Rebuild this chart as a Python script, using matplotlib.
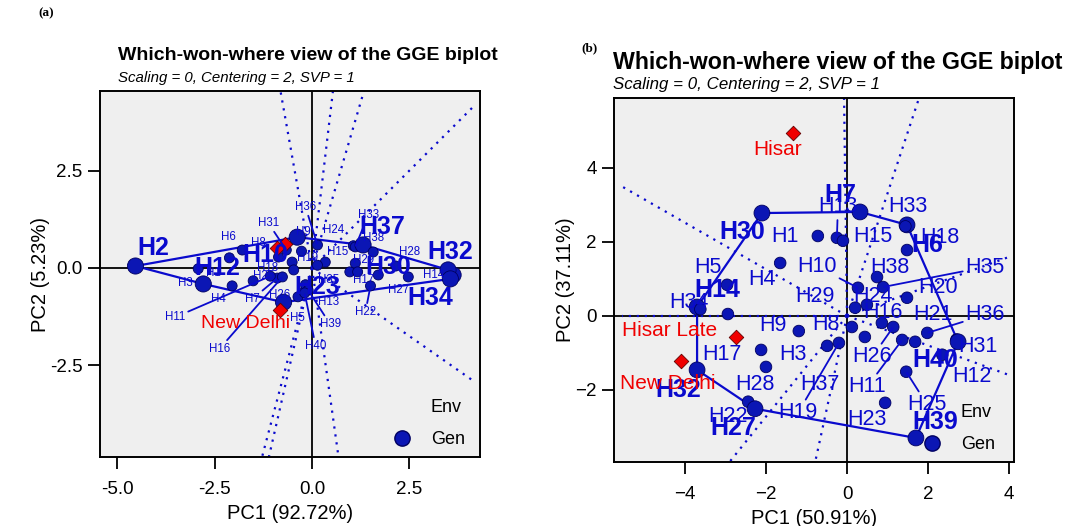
import numpy as np
import matplotlib.pyplot as plt
from matplotlib.lines import Line2D

plt.rcParams['font.family'] = ['Liberation Sans', 'DejaVu Sans']

BLUE = '#0A0ACD'
GEN_FILL = '#0B16B4'
GEN_EDGE = '#000060'
ENV_RED = '#F00000'
PANEL_BG = '#EFEFEF'

gen = ['H%d' % i for i in range(1, 41)]
env_names = ['Hisar', 'Hisar Late', 'New Delhi']

# (a) GGE scores -- PC1 92.72 %, PC2 5.23 %
pc1_a = [-2.12, -4.53, -2.92, -2.05, -0.22, -1.79, -0.89, -0.86, -0.27, -0.38,
         -1.07, -2.79, -0.17, 3.45, 0.34, -0.76, 0.97, -0.51, 0.14, -0.47,
         1.70, 1.50, -0.73, 1.06, -1.51, -0.36, 2.47, 2.15, 1.11, 3.62,
         -0.66, 3.49, 1.11, 3.55, 1.17, 0.14, 1.31, 1.57, -0.10, -0.19]
pc2_a = [0.26, 0.05, -0.02, -0.46, -0.62, 0.46, -0.26, 0.28, 0.43, 0.79,
         -0.21, -0.41, -0.43, -0.12, 0.15, -0.23, -0.10, 0.15, 0.07, -0.05,
         -0.18, -0.46, -0.88, 0.57, -0.33, -0.74, -0.23, 0.05, 0.12, -0.18,
         0.46, -0.05, 0.54, -0.28, -0.10, 0.59, 0.59, 0.41, -0.57, -0.64]
env_pc1_a = [-0.70, -0.89, -0.81]
env_pc2_a = [0.62, 0.52, -1.07]

# (b) GGE scores -- PC1 50.91 %, PC2 37.11 %
pc1_b = [-0.72, -2.94, -0.49, -1.65, -2.96, 1.48, 0.32, 0.12, -1.19, 0.27,
         1.36, 2.35, -0.25, -3.70, -0.10, 0.86, -2.12, 1.48, -0.20, 1.48,
         1.68, -2.44, 0.94, 0.49, 1.46, 1.14, -2.27, -2.00, 0.20, -2.10,
         2.70, -3.70, 1.44, -3.62, 0.89, 1.98, 0.44, 0.74, 1.70, 2.74]
pc2_b = [2.16, 0.05, -0.81, 1.43, 0.84, 2.46, 2.81, -0.30, -0.41, 0.76,
         -0.65, -1.05, 2.11, 0.24, 2.03, -0.19, -0.92, 1.78, -0.73, 0.49,
         -0.70, -2.32, -2.35, 0.30, -1.51, -0.30, -2.51, -1.38, 0.22, 2.78,
         -0.64, -1.46, 2.42, 0.18, 0.78, -0.46, -0.57, 1.05, -3.30, -0.70]
env_pc1_b = [-1.33, -2.74, -4.10]
env_pc2_b = [4.95, -0.57, -1.22]

# label placement: offset from the point in pixels (genotypes without an
# entry are left unlabelled)
lab_a = {'H1': (-16, -15), 'H3': (-13, -14), 'H4': (-14, -13), 'H5': (-6, -26),
         'H6': (-14, 13), 'H7': (-25, -21), 'H8': (-20, 14), 'H9': (2, 19),
         'H11': (-95, -41), 'H13': (23, -17), 'H14': (-13, -2), 'H15': (12, 10),
         'H16': (-63, -72), 'H17': (14, -8), 'H18': (-25, -6), 'H19': (-10, 7),
         'H22': (-5, -26), 'H24': (-20, 16), 'H25': (10, 5), 'H26': (-18, 2),
         'H27': (-10, -13), 'H28': (14, 14), 'H29': (8, 3), 'H31': (-18, 27),
         'H33': (13, 32), 'H35': (-29, -8), 'H36': (-12, 38), 'H38': (0, 14),
         'H39': (22, -34), 'H40': (11, -53),
         'H2': (18, 18), 'H10': (-32, -18), 'H12': (14, 16), 'H23': (34, 15),
         'H30': (-65, 8), 'H32': (2, 18), 'H34': (-20, -19), 'H37': (19, 18)}
link_a = ['H7', 'H11', 'H16', 'H22', 'H31', 'H33', 'H36', 'H39', 'H40']
env_lab_a = {'New Delhi': (-35, -14)}

lab_b = {'H1': (-33, -1), 'H3': (-34, -9), 'H4': (-18, -17), 'H5': (-19, 17),
         'H8': (-26, 2), 'H9': (-26, 6), 'H10': (-41, 21), 'H11': (-35, -47),
         'H12': (30, -22), 'H13': (1, 31), 'H15': (30, 4), 'H16': (1, 10),
         'H17': (-39, -5), 'H18': (33, 13), 'H19': (-41, -70), 'H20': (31, 10),
         'H21': (18, 27), 'H22': (-20, -15), 'H23': (-18, -17), 'H24': (6, 8),
         'H25': (21, -33), 'H26': (-21, -30), 'H28': (-11, -18), 'H29': (-40, 11),
         'H31': (21, -7), 'H33': (2, 20), 'H34': (-11, 7), 'H35': (102, 20),
         'H36': (58, 18), 'H37': (-45, -48), 'H38': (13, 10),
         'H14': (20, 17), 'H30': (-20, -19), 'H7': (-20, 17), 'H6': (20, -20),
         'H40': (-23, -18), 'H39': (19, 16), 'H27': (-22, -19), 'H32': (-19, -20)}
link_b = ['H10', 'H11', 'H13', 'H19', 'H25', 'H26', 'H35', 'H36']
env_lab_b = {'Hisar': (-16, -17), 'Hisar Late': (-66, 6), 'New Delhi': (-13, -22)}


def convex_hull(xs, ys):
    idx = sorted(range(len(xs)), key=lambda i: (xs[i], ys[i]))

    def cross(o, a, b):
        return (xs[a] - xs[o]) * (ys[b] - ys[o]) - (ys[a] - ys[o]) * (xs[b] - xs[o])

    lower, upper = [], []
    for i in idx:
        while len(lower) >= 2 and cross(lower[-2], lower[-1], i) <= 0:
            lower.pop()
        lower.append(i)
    for i in reversed(idx):
        while len(upper) >= 2 and cross(upper[-2], upper[-1], i) <= 0:
            upper.pop()
        upper.append(i)
    return lower[:-1] + upper[:-1]


def biplot(ax, px, py, epx, epy, labs, links, env_labs, xlim, ylim,
           fs_lab, fs_win, fs_env, s_gen, s_win):
    ax.set_facecolor(PANEL_BG)
    ax.axhline(0, color='black', lw=1.3, zorder=1)
    ax.axvline(0, color='black', lw=1.3, zorder=1)

    hull = convex_hull(px, py)
    hx = [px[i] for i in hull]
    hy = [py[i] for i in hull]

    # perpendiculars from the origin to each polygon side
    for k in range(len(hull)):
        x0, y0 = hx[k], hy[k]
        x1, y1 = hx[(k + 1) % len(hull)], hy[(k + 1) % len(hull)]
        dx, dy = x1 - x0, y1 - y0
        t = -(x0 * dx + y0 * dy) / (dx * dx + dy * dy)
        fx, fy = x0 + t * dx, y0 + t * dy
        if abs(fx) > 1e-6:
            xend = 0.965 * (xlim[1] if fx > 0 else xlim[0])
            s = xend / fx
        else:
            s = 100.0
        ax.plot([0, fx * s], [0, fy * s], color=BLUE, lw=1.6,
                ls=(0, (1, 2.6)), zorder=2)

    ax.plot(hx + hx[:1], hy + hy[:1], color=BLUE, lw=1.6, zorder=3)

    winners = set(gen[i] for i in hull)
    sizes = [s_win if g in winners else s_gen for g in gen]
    ax.scatter(px, py, s=sizes, color=GEN_FILL, edgecolor=GEN_EDGE,
               linewidth=0.6, zorder=4)
    ax.scatter(epx, epy, s=55, marker='D', color=ENV_RED,
               edgecolor='#600000', linewidth=0.6, zorder=4)

    for i, g in enumerate(gen):
        if g not in labs:
            continue
        arrow = None
        if g in links:
            arrow = dict(arrowstyle='-', color=BLUE, lw=1.3,
                         shrinkA=0, shrinkB=1)
        bold = g in winners
        ax.annotate(g, (px[i], py[i]), xytext=labs[g],
                    textcoords='offset pixels', color=BLUE,
                    fontsize=fs_win if bold else fs_lab,
                    fontweight='bold' if bold else 'normal',
                    ha='center', va='center', arrowprops=arrow,
                    zorder=6 if bold else 5)

    for j, e in enumerate(env_names):
        if e in env_labs:
            ax.annotate(e, (epx[j], epy[j]), xytext=env_labs[e],
                        textcoords='offset pixels', color=ENV_RED,
                        fontsize=fs_env, ha='center', va='center', zorder=6)

    ax.set_xlim(xlim)
    ax.set_ylim(ylim)
    for sp in ax.spines.values():
        sp.set_linewidth(1.4)
    ax.tick_params(length=8.5, width=1.3, labelsize=13.5, colors='black')
    ax.tick_params(axis='x', pad=9)
    ax.tick_params(axis='y', pad=4)


fig = plt.figure(figsize=(10.68, 5.26), dpi=100)

ax_a = fig.add_axes([100 / 1068, 69 / 526, 380 / 1068, 366 / 526])
biplot(ax_a, pc1_a, pc2_a, env_pc1_a, env_pc2_a, lab_a, link_a, env_lab_a,
       (-5.44, 4.31), (-4.85, 4.54), 8.3, 18, 14, 52, 135)
ax_a.set_xticks([-5, -2.5, 0, 2.5], ['-5.0', '-2.5', '0.0', '2.5'])
ax_a.set_yticks([-2.5, 0, 2.5], ['-2.5', '0.0', '2.5'])
ax_a.set_xlabel('PC1 (92.72%)', fontsize=14.5)
ax_a.set_ylabel('PC2 (5.23%)', fontsize=14.5, labelpad=0)

ax_b = fig.add_axes([614 / 1068, 64 / 526, 400 / 1068, 364 / 526])
biplot(ax_b, pc1_b, pc2_b, env_pc1_b, env_pc2_b, lab_b, link_b, env_lab_b,
       (-5.75, 4.12), (-3.95, 5.89), 15.5, 18, 15, 70, 130)
ax_b.set_xticks([-4, -2, 0, 2, 4])
ax_b.set_yticks([-2, 0, 2, 4])
ax_b.set_xlabel('PC1 (50.91%)', fontsize=14.5)
ax_b.set_ylabel('PC2 (37.11%)', fontsize=14.5, labelpad=0)

legend_handles = [
    Line2D([], [], ls='none', marker='D', markersize=0),
    Line2D([], [], ls='none', marker='o', markersize=11,
           markerfacecolor=GEN_FILL, markeredgecolor=GEN_EDGE),
]
for ax, anchor in ((ax_a, (0.771, 0.025)), (ax_b, (0.7725, 0.025))):
    ax.legend(legend_handles, ['Env', 'Gen'], loc='lower left',
              bbox_to_anchor=anchor, frameon=False, fontsize=13,
              handlelength=1.0, handletextpad=1.1, borderpad=0,
              borderaxespad=0, labelspacing=0.85)

fig.text(118 / 1068, 1 - 55 / 526, 'Which-won-where view of the GGE biplot',
         fontsize=14, fontweight='bold', va='center')
fig.text(118 / 1068, 1 - 78 / 526, 'Scaling = 0, Centering = 2, SVP = 1',
         fontsize=10.8, style='italic', va='center')
fig.text(613 / 1068, 1 - 62 / 526, 'Which-won-where view of the GGE biplot',
         fontsize=16.7, fontweight='bold', va='center')
fig.text(613 / 1068, 1 - 85 / 526, 'Scaling = 0, Centering = 2, SVP = 1',
         fontsize=12.2, style='italic', va='center')
fig.text(38 / 1068, 1 - 13 / 526, '(a)', fontsize=9.5, fontweight='bold',
         family='Liberation Serif', va='center')
fig.text(581 / 1068, 1 - 48 / 526, '(b)', fontsize=9.5, fontweight='bold',
         family='Liberation Serif', va='center')

fig.savefig('out.png', dpi=100)
